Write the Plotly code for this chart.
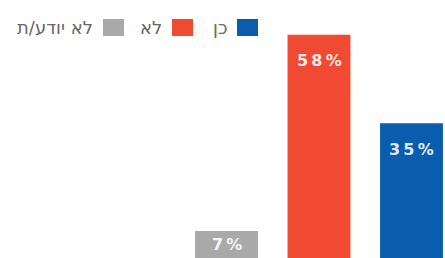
import plotly.graph_objects as go

categories = ["לא יודע/ת", "לא", "כן"]
values = [7, 58, 35]
labels = ["7%", "58%", "35%"]
colors = ["#A9A9A9", "#F04A32", "#0A5DAE"]

W, H = 445, 258
spacing = 92.5
first_center = 226.5
x0 = -first_center / spacing
x1 = x0 + W / spacing
px_per_unit = 3.85
ymax = H / px_per_unit

fig = go.Figure()
fig.add_trace(go.Bar(
    x=list(range(len(categories))), y=values,
    marker=dict(color=colors, line=dict(width=0)),
    width=0.68,
    hoverinfo="skip", showlegend=False,
))

# value labels inside the top of each bar (slightly letter-spaced)
for i, (v, t) in enumerate(zip(values, labels)):
    bar_px = v * px_per_unit
    shift = -26 if bar_px > 60 else -bar_px / 2
    spaced = "\u2009".join(t)
    fig.add_annotation(x=i, y=v, text="<b>%s</b>" % spaced, showarrow=False,
                       xanchor="center", yanchor="middle", yshift=shift,
                       font=dict(family="DejaVu Sans", size=16,
                                 color="rgba(255,255,255,0.9)"))

# legend (RTL): swatch right of text
legend_items = [("כן", "#0A5DAE", 237), ("לא", "#F04A32", 172), ("לא יודע/ת", "#A9A9A9", 103)]
for name, col, left in legend_items:
    fig.add_shape(type="rect", xref="paper", yref="paper",
                  x0=left / W, x1=(left + 21) / W,
                  y0=1 - 36 / H, y1=1 - 19 / H,
                  fillcolor=col, line=dict(width=0))
    fig.add_annotation(xref="paper", yref="paper", x=(left - 8) / W, y=1 - 28 / H,
                       text=name, showarrow=False, xanchor="right", yanchor="middle",
                       font=dict(family="DejaVu Sans", size=18, color="#666666"))

fig.update_layout(
    width=W, height=H,
    margin=dict(l=0, r=0, t=0, b=0),
    paper_bgcolor="white", plot_bgcolor="white",
    xaxis=dict(range=[x0, x1], visible=False),
    yaxis=dict(range=[0, ymax], visible=False),
)
fig.write_html("out.html", config={"displayModeBar": False},
               post_script="document.body.style.margin='0';document.body.style.overflow='hidden';")
